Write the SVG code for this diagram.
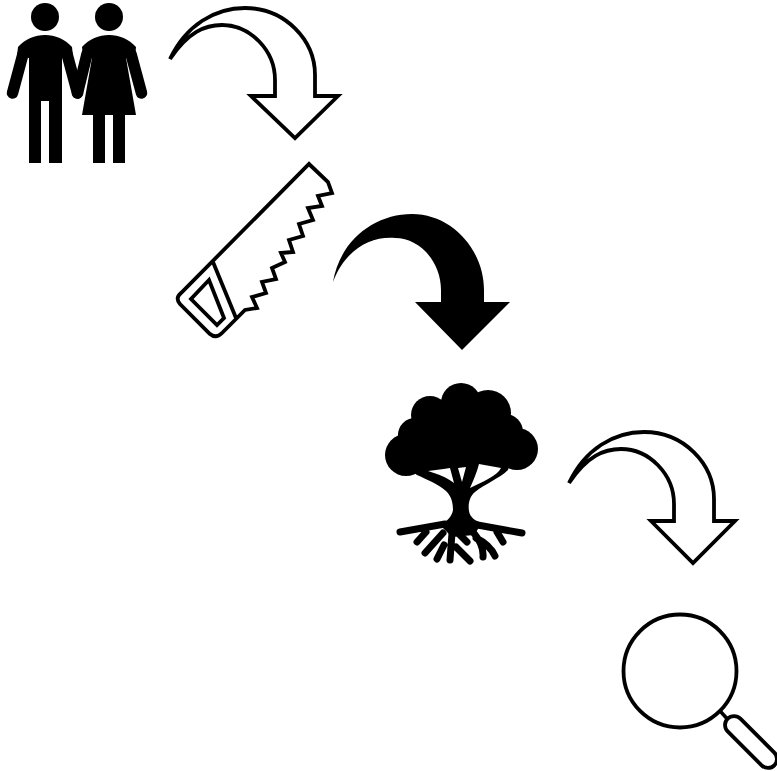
<svg xmlns="http://www.w3.org/2000/svg" width="777" height="771" viewBox="0 0 777 771">
<style>
.o{fill:#fff;stroke:#000;stroke-width:3.800;stroke-linejoin:miter}
.k{fill:#000;stroke:none}
.a{fill:none;stroke:#000;stroke-width:11.500;stroke-linecap:round}
.r{fill:none;stroke:#000;stroke-linecap:round;stroke-linejoin:round}
.w{fill:#fff;stroke:none}
</style>
<rect width="777" height="771" fill="#fff"/>
<g id="people">
<circle class="k" cx="45" cy="17" r="14"/>
<circle class="k" cx="109" cy="17" r="14"/>
<path class="k" d="M45,35C55,35 65,39 72,47L73,56L62,58V163H49V101H41V163H29V58L17,56L18,47C25,39 35,35 45,35Z"/>
<path class="a" d="M23,54L12.500,93M67,54L77.500,93"/>
<path class="k" d="M109,35C119,35 129,39 136,47L135,58L126,58L136,115H125V163H113V115H105V163H93V115H82L92,58L83,56L82,47C89,39 99,35 109,35Z"/>
<path class="a" d="M87,54L77.500,93M131,54L141.500,93"/>
</g>
<g id="saw">
<path class="o" d="M309,164L328,182L332,193L318,196L322,206L308,208L313,220L299,224L303,236L289,240L293,252L281,253L285,262L272,268L276,279L262,282L266,293L252,297L257,308L245,310L237,318L222,333Q216,339 210,334L180,304Q175,298 181,293Z"/>
<path class="o" fill="none" d="M213,262L236,318"/>
<path class="o" d="M209,280L191,299L217,325L224,318Z"/>
</g>
<g id="tree">
<circle class="k" cx="406" cy="455" r="21"/>
<circle class="k" cx="415" cy="435" r="17"/>
<circle class="k" cx="430" cy="415" r="19"/>
<circle class="k" cx="461" cy="403" r="20"/>
<circle class="k" cx="488" cy="413" r="23"/>
<circle class="k" cx="505" cy="432" r="18"/>
<circle class="k" cx="517" cy="449" r="21"/>
<path class="k" d="M405,440L430,400H490L517,440L508,470C500,478 485,484 475,492C469,497 468,505 469,511C470,518 476,521 482,523L474,535L452,537L440,525C448,521 452,516 453,510C453,500 450,495 446,491C438,484 428,480 417,475L410,470Z"/>
<path class="w" d="M428,471C436,470 444,469 450,468L454,483C448,478 438,474 428,471ZM458,468L466,467L462,482ZM479,464C486,465 494,467 501,468C497,476 482,482 470,488C473,481 477,472 479,464Z"/>
<path class="r" stroke-width="7" d="M400,532L445,524M522,533L472,524M417,542L426,532M425,553L443,533M437,559L444,545M450,560L452,533M470,561L456,547M467,542L457,532M483,557Q484,545 473,532M495,556Q490,545 476,538M503,542L497,532"/>
</g>
<g id="magnifier">
<circle class="o" cx="680" cy="671" r="56.500"/>
<path class="r" stroke-width="3.500" d="M721,712L730,722"/>
<rect class="o" x="-33" y="-9" width="66" height="18" rx="9" transform="translate(751 742) rotate(45)"/>
</g>
<g id="connectors">
<path class="o" d="M170,59C186,25 215,8 245,8C285,8 315,40 315,75V96H338L295,138L251,96H275V80C275,50 250,25 222,25C205,25 188,32 170,59Z"/>
<path class="k" d="M333,282C340,240 375,214 412,214C452,214 484,250 484,290V302H510L462,350L415,302H441V290C441,262 420,238 395,238C370,236 345,250 333,282Z"/>
<path class="o" d="M569,483C585,449 614,432 644,432C684,432 714,464 714,499V521H735L693,563L651,521H674V504C674,474 649,449 621,449C604,449 587,456 569,483Z"/>
</g>
</svg>
